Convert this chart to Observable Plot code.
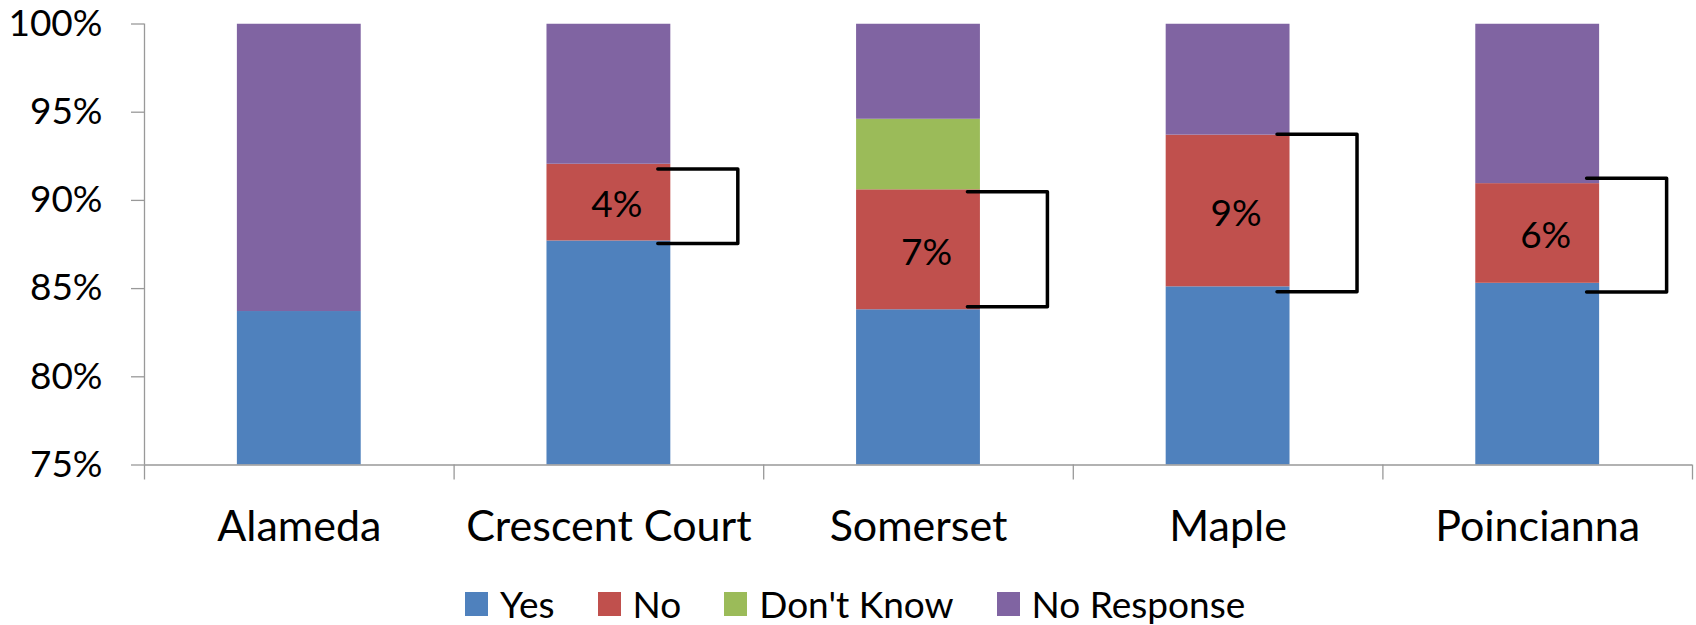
<!DOCTYPE html>
<html>
<head>
<meta charset="utf-8">
<script src="https://cdn.jsdelivr.net/npm/d3@7"></script>
<script src="https://cdn.jsdelivr.net/npm/@observablehq/plot@0.6"></script>
<style>
  html, body { margin: 0; padding: 0; background: #fff; }
  body { width: 1696px; height: 625px; overflow: hidden; font-family: Lato, "Open Sans", sans-serif; }
  #legend { display: flex; align-items: center; height: 24px; margin-top: 12px; padding-left: 465px; font-size: 37px; color: #000; }
  #legend .item { display: flex; align-items: center; margin-right: 43px; }
  #legend .sw { width: 23px; height: 24px; margin-right: 12px; }
  #legend .lab { line-height: 24px; }
</style>
</head>
<body>
<div id="chart"></div>
<div id="legend"></div>
<script>
// ---- data ----
const categories = ["Alameda", "Crescent Court", "Somerset", "Maple", "Poincianna"];
const seriesNames = ["Yes", "No", "Don't Know", "No Response"];
const yes        = [83.7, 87.7, 83.8, 85.1, 85.3];
const no         = [0, 4.35, 6.8, 8.6, 5.65];
const dontKnow   = [0, 0, 4.0, 0, 0];
const noResponse = [16.3, 7.95, 5.4, 6.3, 9.05];
const yTicks = [75, 80, 85, 90, 95, 100];
// hand-drawn bracket extents (percent values)
const bracketTop    = [null, 91.78, 90.49, 93.75, 91.25];
const bracketBottom = [null, 87.55, 83.97, 84.82, 84.81];

const colors = ["#4F81BD", "#C0504D", "#9BBB59", "#8064A2"];

// ---- build tables ----
const seriesValues = [yes, no, dontKnow, noResponse];
const rects = [];
categories.forEach((c, i) => {
  let acc = 0;
  seriesValues.forEach((vals, s) => {
    const v = vals[i];
    if (v > 0) rects.push({i, series: seriesNames[s], y1: acc, y2: acc + v});
    acc += v;
  });
});
const labels = categories.map((c, i) => ({i, y: yes[i] + no[i] / 2, text: no[i] > 0 ? Math.round(no[i]) + "%" : ""}))
  .filter(d => d.text);

const stepPx = (1692 - 144) / 5;
const bL = 0.7 - 13 / stepPx, bR = 0.7 + 67 / stepPx;
const brackets = [];
categories.forEach((c, i) => {
  if (bracketTop[i] == null) return;
  brackets.push({i, x: i + bL, y: bracketTop[i]});
  brackets.push({i, x: i + bR, y: bracketTop[i]});
  brackets.push({i, x: i + bR, y: bracketBottom[i]});
  brackets.push({i, x: i + bL, y: bracketBottom[i]});
});

const axisColor = "#999999";

const chart = Plot.plot({
  width: 1696,
  height: 580,
  marginLeft: 144,
  marginRight: 4,
  marginTop: 23.5,
  marginBottom: 115.5,
  style: {fontFamily: "Lato, 'Open Sans', sans-serif", background: "#fff", color: "#000"},
  x: {type: "linear", domain: [0, 5], axis: null},
  y: {domain: [75, 100], axis: null},
  color: {domain: seriesNames, range: colors},
  marks: [
    Plot.rect(rects, {x1: d => d.i + 0.3, x2: d => d.i + 0.7, y1: "y1", y2: "y2", fill: "series", clip: true}),
    Plot.ruleX([0], {y1: 75, y2: 100, stroke: axisColor, strokeWidth: 1.3}),
    Plot.ruleY([75], {x1: 0, x2: 5, stroke: axisColor, strokeWidth: 1.3}),
    Plot.axisY({ticks: yTicks, tickSize: 13, tickPadding: 29, tickFormat: d => d + "%", fontSize: 37, stroke: axisColor, fill: "#000", strokeWidth: 1.3, label: null}),
    Plot.axisX({ticks: d3.range(0, 6), tickSize: 15, tickFormat: () => "", stroke: axisColor, strokeWidth: 1.3, label: null}),
    Plot.axisX({ticks: categories.map((c, i) => i + 0.5), tickSize: 0, tickPadding: 45.5, tickFormat: d => categories[Math.floor(d)], fontSize: 43, fill: "#000", label: null}),
    Plot.text(labels, {x: d => d.i + 0.5, y: "y", text: "text", dx: 8, dy: 3, fontSize: 37, fill: "#000"}),
    Plot.line(brackets, {x: "x", y: "y", z: "i", stroke: "#000", strokeWidth: 3.5, strokeLinejoin: "round"})
  ]
});
document.getElementById("chart").appendChild(chart);

const legend = document.getElementById("legend");
seriesNames.forEach((s, k) => {
  const item = document.createElement("div");
  item.className = "item";
  const sw = document.createElement("div");
  sw.className = "sw";
  sw.style.background = colors[k];
  const lab = document.createElement("span");
  lab.className = "lab";
  lab.textContent = s;
  item.appendChild(sw);
  item.appendChild(lab);
  legend.appendChild(item);
});
</script>
</body>
</html>
